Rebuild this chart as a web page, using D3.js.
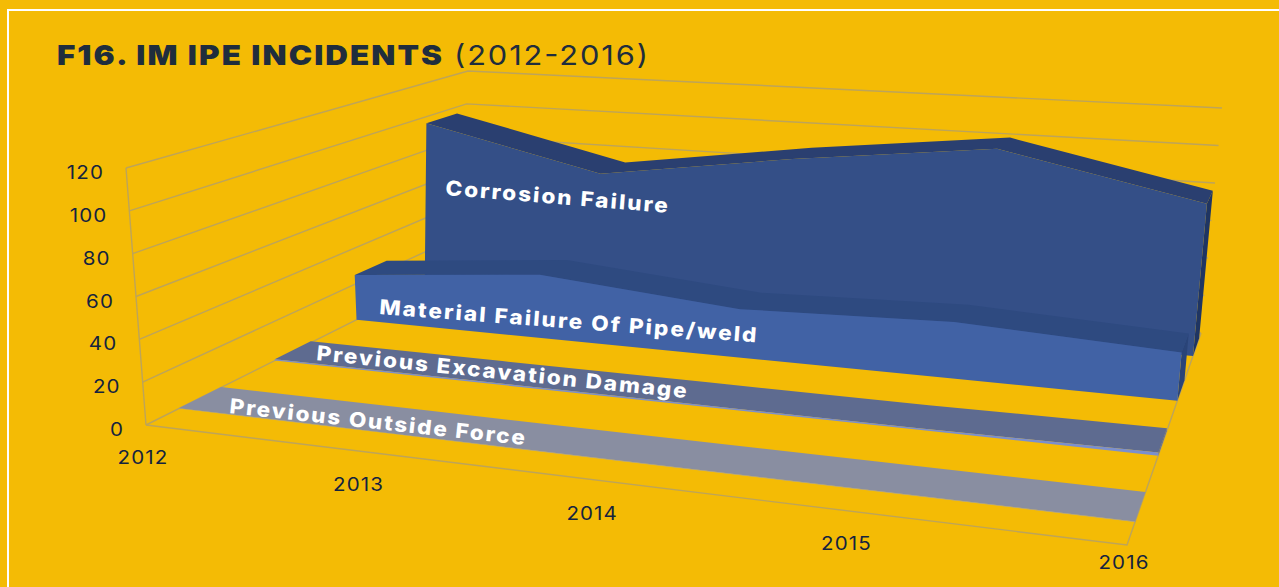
<!DOCTYPE html>
<html><head><meta charset="utf-8">
<style>html,body{margin:0;padding:0;background:#f4bb05;overflow:hidden}svg{display:block}</style>
<script src="https://cdn.jsdelivr.net/npm/d3@7"></script></head><body>
<svg id="c" width="1279" height="587"></svg>
<script>
// ---- data ----
const years = [2012, 2013, 2014, 2015, 2016];
const yTicks = [0, 20, 40, 60, 80, 100, 120];
const seriesNames = ["Corrosion Failure", "Material Failure Of Pipe/weld", "Previous Excavation Damage", "Previous Outside Force"];
const corrosion = [96, 73, 88, 100, 78];
const material = [25, 34, 25, 28, 23];
const excavation = [0.7, 0.7, 0.7, 0.7, 1.4];
const outsideForce = [0.2, 0.2, 0.2, 0.2, 0.2];

// ---- layout ----
const W = 1279, H = 587;
const floorQuad = [[146,425],[1127,545],[1201,333],[460,268]];   // front-left, front-right, back-right, back-left
const topQuad   = [[126,168],[1158,226],[1222,108],[468,71]];
const topWarpU = 1.06, topWarpV = 1.1;                           // the top plane of the source picture is not a pure homography
const seriesStyle = [
  {v:0.855, front:"#344f87", top:"#2a3f70", side:"#1f3562"},
  {v:0.603, front:"#4162a5", top:"#2e4a80", side:"#2a4478"},
  {v:0.342, front:"#7b8fce", top:"#5e6b90", side:"#5a6a9a"},
  {v:0.080, front:"#9aa0b8", top:"#898ea1", side:"#898ea1"}
];
const bandDepth = 0.11;
const labelLayout = [
  {x:445, y:195, a:4.6, len:223},
  {x:379, y:314, a:4.3, len:378},
  {x:316, y:360, a:5.9, len:372},
  {x:229, y:413, a:6.2, len:297}
];
const yearLabelDy = [32, 33, 33, 32, 17];
const font = "Inter, sans-serif";

// ---- projection ----
function homography(q){
  const [[x0,y0],[x1,y1],[x2,y2],[x3,y3]] = q;
  const dx1=x1-x2, dx2=x3-x2, sx=x0-x1+x2-x3, dy1=y1-y2, dy2=y3-y2, sy=y0-y1+y2-y3;
  const det=dx1*dy2-dx2*dy1;
  const g=(sx*dy2-dx2*sy)/det, h=(dx1*sy-sx*dy1)/det;
  const a=x1-x0+g*x1, b=x3-x0+h*x3, d=y1-y0+g*y1, e=y3-y0+h*y3;
  return (u,v)=>{const w=1+g*u+h*v; return [(a*u+b*v+x0)/w,(d*u+e*v+y0)/w];};
}
const floorH = homography(floorQuad), topH = homography(topQuad);
const uScale = d3.scalePoint().domain(years).range([0,1]);
const hScale = d3.scaleLinear().domain([0,120]).range([0,1]);
function project(year, v, val){
  const u = uScale(year), t = hScale(val);
  const f = floorH(u,v), p = topH(Math.pow(u,topWarpU),Math.pow(v,topWarpV));
  return [f[0]+(p[0]-f[0])*t, f[1]+(p[1]-f[1])*t];
}

const svg = d3.select("#c");
const line = d3.line();
const closed = pts => line(pts)+"Z";
svg.append("rect").attr("width",W).attr("height",H).attr("fill","#f4bb05");

// frame
svg.append("path").attr("d",line([[8,H],[8,10],[W,10]])).attr("fill","none").attr("stroke","#fff").attr("stroke-width",2);

// walls
const gridC = "#bda45a";
const gridG = svg.append("g").attr("fill","none").attr("stroke",gridC).attr("stroke-width",1.4);
yTicks.forEach(t=>{
  gridG.append("path").attr("d",line([project(years[0],0,t),project(years[0],1,t),project(years[4],1,t)]));
});
gridG.append("path").attr("d",line([project(years[0],0,0),project(years[0],0,120)]));
gridG.append("path").attr("d",line([project(years[0],0,0),project(years[4],0,0),project(years[4],1,0)]));

// ribbons, back to front
const allValues = [corrosion, material, excavation, outsideForce];
allValues.forEach((vals,i)=>{
  const s = seriesStyle[i], v0 = s.v, v1 = s.v+bandDepth;
  const g = svg.append("g").attr("class","series").attr("data-name",seriesNames[i]);
  const last = years[years.length-1];
  const side = [project(last,v0,vals[4]),project(last,v1,vals[4]),project(last,v1,0),project(last,v0,0)];
  g.append("path").attr("d",closed(side)).attr("fill",s.side);
  const topPts = years.map((y,k)=>project(y,v0,vals[k])).concat(years.map((y,k)=>project(y,v1,vals[k])).reverse());
  g.append("path").attr("d",closed(topPts)).attr("fill",s.top);
  const frontPts = years.map((y,k)=>project(y,v0,vals[k])).concat(years.map(y=>project(y,v0,0)).reverse());
  g.append("path").attr("d",closed(frontPts)).attr("fill",s.front);
});

// series labels
seriesNames.forEach((n,i)=>{
  const l = labelLayout[i];
  svg.append("text").text(n)
    .attr("transform",`translate(${l.x},${l.y}) rotate(${l.a}) scale(1.1,1)`)
    .attr("textLength",l.len/1.1).attr("lengthAdjust","spacing")
    .attr("font-family",font).attr("font-weight",800)
    .attr("font-size",20.5).attr("fill","#fff");
});

// y axis labels
const tickC = "#14233f";
yTicks.forEach(t=>{
  const p = project(years[0],0,t);
  svg.append("text").text(t)
    .attr("transform",`translate(${p[0]-22},${p[1]+11}) scale(1.14,1)`)
    .attr("text-anchor","end").attr("font-family",font).attr("font-size",18)
    .attr("letter-spacing",1).attr("fill",tickC);
});
// x axis labels
years.forEach((y,k)=>{
  const p = project(y,0,0);
  svg.append("text").text(y)
    .attr("transform",`translate(${p[0]-3},${p[1]+yearLabelDy[k]+7}) scale(1.14,1)`)
    .attr("text-anchor","middle").attr("font-family",font).attr("font-size",18)
    .attr("letter-spacing",1).attr("fill",tickC);
});

// title
svg.append("text").text("F16. IM IPE INCIDENTS").attr("transform","translate(57,65) scale(1.14,1)")
  .attr("textLength",385/1.14).attr("lengthAdjust","spacing")
  .attr("font-family",font).attr("font-weight",900).attr("font-size",27.5).attr("fill","#1f2d3d");
svg.append("text").text("(2012-2016)").attr("transform","translate(454,65) scale(1.12,1)")
  .attr("textLength",194/1.12).attr("lengthAdjust","spacing")
  .attr("font-family",font).attr("font-weight",400).attr("font-size",27.5).attr("fill","#1f2d3d");
</script></body></html>
